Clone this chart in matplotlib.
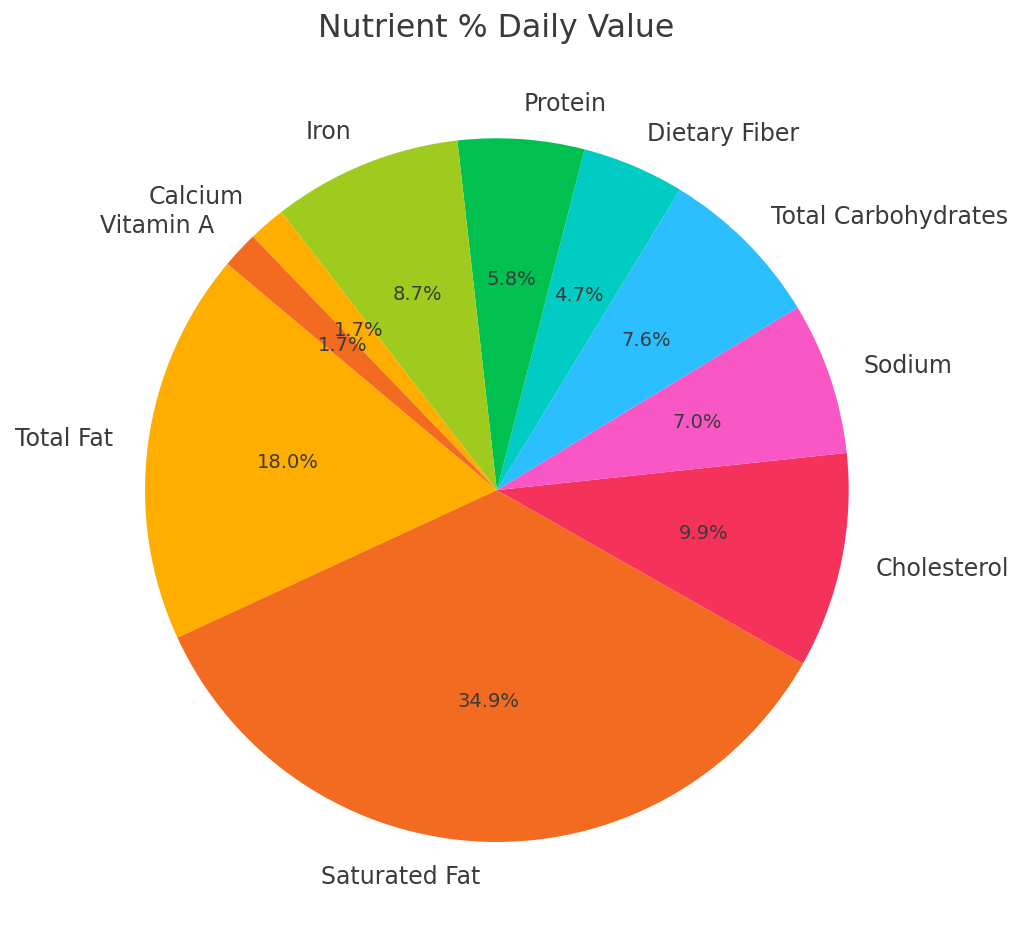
import matplotlib.pyplot as plt

# Nutrient shares (% of total daily value)
nutrients = ["Total Fat", "Saturated Fat", "Cholesterol", "Sodium",
             "Total Carbohydrates", "Dietary Fiber", "Protein", "Iron",
             "Calcium", "Vitamin A"]
shares = [18.0, 34.9, 9.9, 7.0, 7.6, 4.7, 5.8, 8.7, 1.7, 1.7]

# 8-colour cycle, repeats for the last two slices
palette = ["#FFAE00", "#F26B21", "#F5335A", "#F857C5",
           "#2BBFFF", "#00CCC4", "#00C050", "#9FCB1F"]
colors = [palette[i % len(palette)] for i in range(len(shares))]

text_color = "#3a3a3a"

fig = plt.figure(figsize=(10.24, 9.44), dpi=100)
ax = fig.add_axes([0.0557, 0.0148, 0.859, 0.932])

wedges, texts, autotexts = ax.pie(
    shares, labels=nutrients, colors=colors, autopct='%1.1f%%',
    startangle=140, textprops={'color': text_color, 'fontsize': 17})

for t in autotexts:
    t.set_fontsize(14)

ax.set_aspect('equal')
fig.text(0.4844, 1 - 28 / 944, 'Nutrient % Daily Value', fontsize=22.7,
         color=text_color, ha='center', va='center')

fig.savefig('out.png', dpi=100)
